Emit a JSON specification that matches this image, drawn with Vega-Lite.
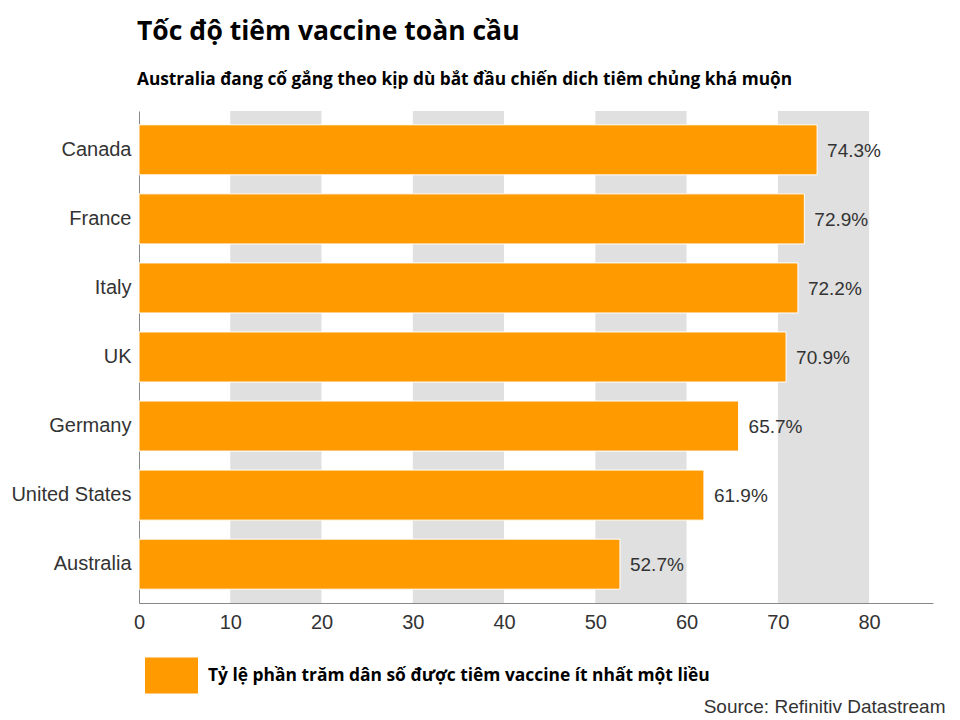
{
  "$schema": "https://vega.github.io/schema/vega-lite/v6.json",
  "autosize": {"type": "none"},
  "width": 794,
  "height": 492,
  "padding": {"left": 139, "top": 111, "right": 27, "bottom": 117},
  "background": "white",
  "config": {"view": {"stroke": null}},
  "title": {
    "text": "Tốc độ tiêm vaccine toàn cầu",
    "subtitle": "Australia đang cố gắng theo kịp dù bắt đầu chiến dich tiêm chủng khá muộn",
    "anchor": "start",
    "frame": "group",
    "font": "Open Sans",
    "fontSize": 26.5,
    "fontWeight": "bold",
    "color": "#000000",
    "subtitleFont": "Open Sans",
    "subtitleFontSize": 17.3,
    "subtitleFontWeight": "bold",
    "subtitleColor": "#000000",
    "subtitlePadding": 25,
    "offset": 23,
    "dx": -2
  },
  "datasets": {
    "bars": [
      {"country": "Canada", "value": 74.3, "label": "74.3%"},
      {"country": "France", "value": 72.9, "label": "72.9%"},
      {"country": "Italy", "value": 72.2, "label": "72.2%"},
      {"country": "UK", "value": 70.9, "label": "70.9%"},
      {"country": "Germany", "value": 65.7, "label": "65.7%"},
      {"country": "United States", "value": 61.9, "label": "61.9%"},
      {"country": "Australia", "value": 52.7, "label": "52.7%"}
    ],
    "bands": [
      {"start": 10, "end": 20},
      {"start": 30, "end": 40},
      {"start": 50, "end": 60},
      {"start": 70, "end": 80}
    ]
  },
  "layer": [
    {
      "data": {"name": "bands"},
      "mark": {"type": "rect", "color": "#e0e0e0"},
      "encoding": {
        "x": {"field": "start", "type": "quantitative"},
        "x2": {"field": "end"}
      }
    },
    {
      "data": {"name": "bars"},
      "mark": {"type": "bar", "stroke": "white", "strokeWidth": 1},
      "encoding": {
        "y": {
          "field": "country",
          "type": "nominal",
          "sort": ["Canada", "France", "Italy", "UK", "Germany", "United States", "Australia"],
          "scale": {"paddingInner": 0.275, "paddingOuter": 0.2},
          "axis": {
            "title": null,
            "ticks": false,
            "domainColor": "#888888",
            "labelFont": "Liberation Sans",
            "labelFontSize": 20,
            "labelColor": "#333333",
            "labelPadding": 8
          }
        },
        "x": {
          "field": "value",
          "type": "quantitative",
          "scale": {"domain": [0, 87], "nice": false},
          "axis": {
            "values": [0, 10, 20, 30, 40, 50, 60, 70, 80],
            "grid": false,
            "ticks": false,
            "labelFlush": false,
            "domainColor": "#888888",
            "labelFont": "Liberation Sans",
            "labelFontSize": 20,
            "labelColor": "#333333",
            "labelPadding": 9,
            "title": "Source: Refinitiv Datastream",
            "titleFont": "Liberation Sans",
            "titleFontSize": 19,
            "titleFontWeight": "normal",
            "titleColor": "#333333",
            "titleAnchor": "end",
            "titleAlign": "right",
            "titleBaseline": "alphabetic",
            "titleX": 806,
            "titleY": 109
          }
        },
        "color": {
          "datum": "Tỷ lệ phần trăm dân số được tiêm vaccine ít nhất một liều",
          "type": "nominal",
          "scale": {"range": ["#ff9a00"]},
          "legend": {
            "orient": "none",
            "legendX": 6,
            "legendY": 538,
            "title": null,
            "symbolType": "M-1,-0.68H1V0.68H-1Z",
            "symbolSize": 2809,
            "symbolStrokeWidth": 0,
            "labelFont": "Open Sans",
            "labelFontSize": 17.4,
            "labelFontWeight": "bold",
            "labelColor": "#000000",
            "labelOffset": 10,
            "labelLimit": 700
          }
        }
      }
    },
    {
      "data": {"name": "bars"},
      "mark": {"type": "text", "align": "left", "baseline": "middle", "dx": 10, "dy": 1, "font": "Liberation Sans", "fontSize": 19, "color": "#333333"},
      "encoding": {
        "y": {"field": "country", "type": "nominal", "sort": ["Canada", "France", "Italy", "UK", "Germany", "United States", "Australia"]},
        "x": {"field": "value", "type": "quantitative"},
        "text": {"field": "label"}
      }
    }
  ]
}
